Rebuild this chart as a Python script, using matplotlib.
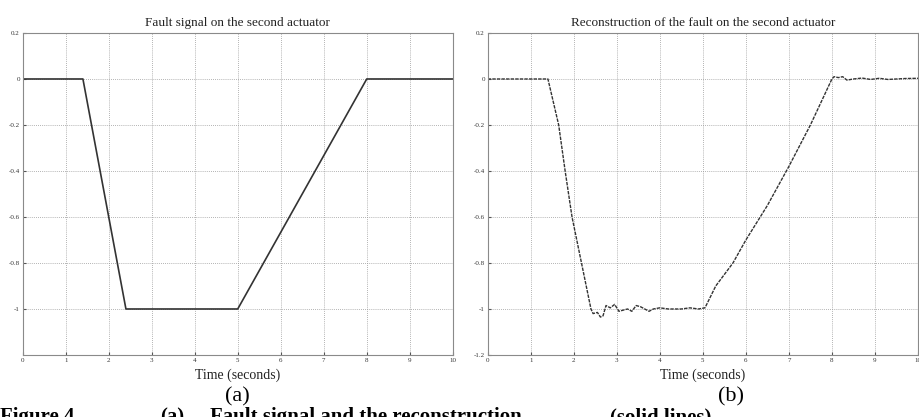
import matplotlib
matplotlib.use("Agg")
import matplotlib.pyplot as plt

plt.rcParams['font.family'] = ['Liberation Serif', 'DejaVu Serif']

# fault signal (a)
t_fault = [0, 1.4, 2.4, 5.0, 8.0, 10.0]
y_fault = [0, 0, -1.0, -1.0, 0, 0]

# reconstruction (b)
t_rec = [0, 1.0, 1.4, 1.5, 1.65, 1.8, 1.96, 2.18, 2.4, 2.45, 2.55, 2.62, 2.68,
         2.75, 2.85, 2.95, 3.05, 3.15, 3.25, 3.35, 3.45, 3.55, 3.65, 3.75,
         3.85, 4.0, 4.2, 4.5, 4.7, 4.9, 5.05, 5.3, 5.5, 5.7, 6.0, 6.5, 7.0,
         7.5, 8.0, 8.05, 8.15, 8.25, 8.35, 8.5, 8.7, 8.9, 9.1, 9.3, 9.5, 9.7, 10.0]
y_rec = [0, 0, 0, -0.08, -0.2, -0.4, -0.6, -0.8, -1.0, -1.02, -1.015, -1.035, -1.03,
         -0.985, -0.995, -0.98, -1.01, -1.005, -1.0, -1.01, -0.985, -0.99, -1.0, -1.01,
         -1.0, -0.995, -1.0, -1.0, -0.995, -1.0, -0.995, -0.9, -0.85, -0.8, -0.7, -0.55, -0.38,
         -0.2, 0.0, 0.01, 0.006, 0.01, -0.005, 0.0, 0.004, -0.002, 0.003, -0.002, 0.0, 0.002, 0.003]

xticks = list(range(0, 11))
yticks_a = [0.2, 0, -0.2, -0.4, -0.6, -0.8, -1.0]
yticks_b = [0.2, 0, -0.2, -0.4, -0.6, -0.8, -1.0, -1.2]


def fmt(v):
    if abs(v) < 1e-9:
        return "0"
    s = "%g" % v
    return s


fig = plt.figure(figsize=(9.2, 4.17), dpi=100)
ax1 = fig.add_axes([0.0247, 0.1487, 0.4674, 0.7722])
ax2 = fig.add_axes([0.5301, 0.1487, 0.4677, 0.7722])

for ax, yt, title in [(ax1, yticks_a, "Fault signal on the second actuator"),
                      (ax2, yticks_b, "Reconstruction of the fault on the second actuator")]:
    ax.set_xlim(0, 10)
    ax.set_ylim(-1.2, 0.2)
    ax.set_xticks(xticks)
    ax.set_xticklabels([str(x) for x in xticks])
    ax.set_yticks(yt)
    ax.set_yticklabels([fmt(v) for v in yt])
    ax.grid(True, linestyle=(0, (1, 1.5)), color="#9a9a9a", linewidth=0.6)
    ax.tick_params(labelsize=5, direction="in", length=2, pad=2, colors="#555555",
                   labelcolor="#333333")
    for sp in ax.spines.values():
        sp.set_color("#8a8a8a")
        sp.set_linewidth(0.8)
    ax.set_title(title, fontsize=9.5, pad=5, color="#222222")
    ax.set_xlabel("Time (seconds)", fontsize=10, labelpad=4, color="#222222")

ax1.plot(t_fault, y_fault, color="#333333", linewidth=1.2)
ax2.plot(t_rec, y_rec, color="#333333", linewidth=1.0, linestyle=(0, (2.5, 0.8)))

fig.text(0.258, 1 - 397 / 417, "(a)", fontsize=16, ha="center", va="center")
fig.text(0.795, 1 - 397 / 417, "(b)", fontsize=16, ha="center", va="center")

# caption line cut off at the bottom edge
yb = 1 - 422 / 417
fig.text(0.0, yb, "Figure 4", fontsize=15, fontweight="bold", va="baseline")
fig.text(160 / 920, yb, "(a)", fontsize=15, fontweight="bold", va="baseline")
fig.text(210 / 920, yb, "Fault signal and the reconstruction", fontsize=15,
         fontweight="bold", va="baseline")
fig.text(610 / 920, yb, "(solid lines)", fontsize=15, fontweight="bold", va="baseline")

fig.savefig("out.png", dpi=100)
